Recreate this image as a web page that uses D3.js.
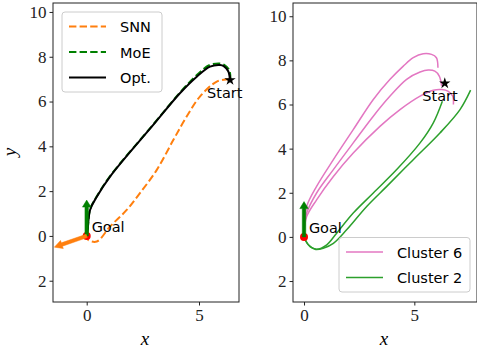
<!DOCTYPE html>
<html>
<head>
<meta charset="utf-8">
<script src="https://cdn.jsdelivr.net/npm/d3@7"></script>
<style>
  body { margin: 0; background: #fff; }
  svg { display: block; }
  .lab { font-family: "DejaVu Sans", sans-serif; font-size: 14.5px; fill: #000; }
</style>
</head>
<body>
<div id="chart"></div>
<script>
// Left panel trajectories
const optPath = [[6.38,6.96],[6.3,7.35],[6.1,7.58],[5.94,7.63],[5.49,7.56],[4.9,7.11],[4.15,6.37],[3.0,5.0],[1.04,2.65],[0.45,1.75],[0.15,1.16],[0.03,0.12],[0,0]];
const moePath = [[6.4,6.98],[6.35,7.4],[6.12,7.64],[5.94,7.7],[5.45,7.62],[4.88,7.16],[4.15,6.4],[3.0,5.02],[1.04,2.67],[0.45,1.77],[0.15,1.18],[0.03,0.12],[0,0]];
const snnPath = [[6.35,7.0],[5.79,6.89],[5.04,6.22],[4.45,5.33],[3.86,4.29],[3.12,2.95],[2.37,1.91],[1.78,1.16],[1.04,0.42],[0.45,-0.25],[0.07,-0.18],[0.03,-0.03]];

// Right panel clusters
const cluster6 = [
  [[6.07,7.67],[6.0,8.12],[5.78,8.27],[5.4,8.3],[4.95,8.12],[4.5,7.74],[3.9,7.14],[3.14,6.23],[2.23,4.86],[1.33,3.5],[0.57,2.29],[0.12,1.38],[0,0.47],[0,0]],
  [[6.24,6.83],[6.13,7.29],[5.93,7.51],[5.63,7.56],[5.26,7.47],[4.65,7.14],[3.9,6.38],[3.14,5.47],[2.23,4.26],[1.33,3.05],[0.57,1.99],[0.12,1.08],[0,0.32],[0,0]],
  [[6.77,6.0],[6.74,6.38],[6.54,6.6],[6.24,6.68],[5.86,6.65],[5.26,6.38],[4.35,5.77],[3.44,5.01],[2.23,3.8],[1.33,2.74],[0.57,1.68],[0.12,0.92],[0,0.17],[0,0]]
];
const cluster2 = [
  [[6.27,6.15],[5.86,5.17],[5.26,4.26],[4.2,3.05],[3.14,1.99],[2.23,1.08],[1.48,0.17],[1.03,-0.36],[0.57,-0.56],[0.27,-0.44],[0.05,-0.14],[0,0]],
  [[7.55,6.65],[7.07,5.77],[6.16,4.71],[4.95,3.5],[3.75,2.29],[2.84,1.38],[1.93,0.32],[1.33,-0.29],[0.87,-0.51],[0.5,-0.56],[0.2,-0.36],[0,0]]
];

const startPt = [6.38, 6.96];
const goalPt = [0, 0];
const xTicks = [0, 5];
const yTicks = [10, 8, 6, 4, 2, 0, -2];
const yTickLabels = ["10", "8", "6", "4", "2", "0", "2"];

const width = 477, height = 354;
const svg = d3.select('#chart').append('svg')
  .attr('width', width).attr('height', height);

const panels = [
  { id: 'L', left: 53, right: 239, top: 3, bottom: 302, xd: [-1.5, 6.78], yd: [-2.95, 10.4], yLabel: true },
  { id: 'R', left: 293, right: 477, top: 3, bottom: 302, xd: [-0.5, 7.84], yd: [-2.95, 10.6], yLabel: false }
];

function drawArrow(g, x, y, p0, p1, color, shaftW, headW, headL) {
  const x0 = x(p0[0]), y0 = y(p0[1]), x1 = x(p1[0]), y1 = y(p1[1]);
  const dx = x1 - x0, dy = y1 - y0, len = Math.hypot(dx, dy);
  const ux = dx / len, uy = dy / len, nx = -uy, ny = ux;
  const bx = x1 - ux * headL, by = y1 - uy * headL;
  const pts = [
    [x0 + nx * shaftW / 2, y0 + ny * shaftW / 2],
    [bx + nx * shaftW / 2, by + ny * shaftW / 2],
    [bx + nx * headW / 2, by + ny * headW / 2],
    [x1, y1],
    [bx - nx * headW / 2, by - ny * headW / 2],
    [bx - nx * shaftW / 2, by - ny * shaftW / 2],
    [x0 - nx * shaftW / 2, y0 - ny * shaftW / 2]
  ];
  g.append('polygon').attr('points', pts.map(p => p.join(',')).join(' '))
    .attr('fill', color).attr('stroke', color).attr('stroke-width', 0.5);
}

function drawLegend(g, x0, y0, w, entries) {
  const rowH = 25.5, pad = 14.5;
  const h = pad * 2 + (entries.length - 1) * rowH;
  g.append('rect').attr('x', x0).attr('y', y0).attr('width', w).attr('height', h)
    .attr('rx', 3).attr('fill', 'white').attr('fill-opacity', 0.8)
    .attr('stroke', '#ccc').attr('stroke-width', 1);
  entries.forEach((e, i) => {
    const yy = y0 + pad + i * rowH;
    g.append('line').attr('x1', x0 + 7).attr('x2', x0 + 44).attr('y1', yy).attr('y2', yy)
      .attr('stroke', e.color).attr('stroke-width', e.w)
      .attr('stroke-dasharray', e.dash || null);
    g.append('text').attr('class', 'lab').attr('x', x0 + 58).attr('y', yy + 5.5).text(e.label);
  });
}

const line = d3.line().curve(d3.curveCatmullRom.alpha(0.5));

panels.forEach(p => {
  const x = d3.scaleLinear().domain(p.xd).range([p.left, p.right]);
  const y = d3.scaleLinear().domain(p.yd).range([p.bottom, p.top]);
  const g = svg.append('g');
  g.append('rect').attr('x', p.left).attr('y', p.top)
    .attr('width', p.right - p.left).attr('height', p.bottom - p.top).attr('fill', 'white');

  g.append('clipPath').attr('id', 'clip' + p.id).append('rect')
    .attr('x', p.left).attr('y', p.top).attr('width', p.right - p.left).attr('height', p.bottom - p.top);
  const plot = g.append('g').attr('clip-path', `url(#clip${p.id})`);
  line.x(d => x(d[0])).y(d => y(d[1]));

  if (p.id === 'L') {
    plot.append('path').attr('d', line(moePath)).attr('fill', 'none')
      .attr('stroke', 'green').attr('stroke-width', 2).attr('stroke-dasharray', '7.4,3.2');
    plot.append('path').attr('d', line(optPath)).attr('fill', 'none')
      .attr('stroke', 'black').attr('stroke-width', 2);
    plot.append('path').attr('d', line(snnPath)).attr('fill', 'none')
      .attr('stroke', '#ff7f0e').attr('stroke-width', 2).attr('stroke-dasharray', '7.4,3.2');
  } else {
    cluster6.forEach(c => plot.append('path').attr('d', line(c)).attr('fill', 'none')
      .attr('stroke', '#e377c2').attr('stroke-width', 1.5));
    cluster2.forEach(c => plot.append('path').attr('d', line(c)).attr('fill', 'none')
      .attr('stroke', '#2ca02c').attr('stroke-width', 1.5));
  }

  // goal marker and arrows
  plot.append('circle').attr('cx', x(goalPt[0])).attr('cy', y(goalPt[1])).attr('r', 4).attr('fill', 'red');
  drawArrow(plot, x, y, goalPt, [0, 1.6], 'green', 3.5, 8.5, 7);
  if (p.id === 'L') drawArrow(plot, x, y, goalPt, [-1.44, -0.5], '#ff7f0e', 3.5, 8.5, 8);

  // start star
  const star = d3.symbol().type(d3.symbolStar).size(40);
  g.append('path').attr('d', star()).attr('transform', `translate(${x(startPt[0])},${y(startPt[1])})`).attr('fill', 'black');

  g.append('text').attr('class', 'lab').attr('x', x(5.36)).attr('y', y(6.15)).text('Start');
  g.append('text').attr('class', 'lab').attr('x', x(0.22)).attr('y', y(0.18)).text('Goal');

  // frame
  g.append('rect').attr('x', p.left).attr('y', p.top)
    .attr('width', p.right - p.left).attr('height', p.bottom - p.top)
    .attr('fill', 'none').attr('stroke', '#222').attr('stroke-width', 1);

  const xAxis = g.append('g').attr('transform', `translate(0,${p.bottom})`)
    .call(d3.axisBottom(x).tickValues(xTicks).tickSize(3.5).tickPadding(3).tickFormat(d3.format('d')));
  const yAxis = g.append('g').attr('transform', `translate(${p.left},0)`)
    .call(d3.axisLeft(y).tickValues(yTicks).tickSize(3.5).tickPadding(3)
      .tickFormat((d, i) => yTickLabels[i]));
  [xAxis, yAxis].forEach(a => {
    a.select('.domain').remove();
    a.selectAll('line').attr('stroke', '#222');
    a.attr('font-family', 'Liberation Serif, serif').attr('font-size', 17);
    a.selectAll('text').attr('fill', '#222');
  });

  g.append('text').attr('x', (p.left + p.right) / 2 - 1).attr('y', 345)
    .attr('text-anchor', 'middle').attr('font-family', 'Liberation Serif, serif')
    .attr('font-style', 'italic').attr('font-size', 19).text('x');
  if (p.yLabel) {
    g.append('text').attr('transform', 'translate(16,152) rotate(-90)')
      .attr('text-anchor', 'middle').attr('font-family', 'Liberation Serif, serif')
      .attr('font-style', 'italic').attr('font-size', 19).text('y');
  }

  if (p.id === 'L') {
    drawLegend(g, 62, 12, 100, [
      { label: 'SNN', color: '#ff7f0e', w: 2, dash: '7.4,3.2' },
      { label: 'MoE', color: 'green', w: 2, dash: '7.4,3.2' },
      { label: 'Opt.', color: 'black', w: 2 }
    ]);
  } else {
    drawLegend(g, 339, 237.5, 131, [
      { label: 'Cluster 6', color: '#e377c2', w: 1.5 },
      { label: 'Cluster 2', color: '#2ca02c', w: 1.5 }
    ]);
  }
});
</script>
</body>
</html>
